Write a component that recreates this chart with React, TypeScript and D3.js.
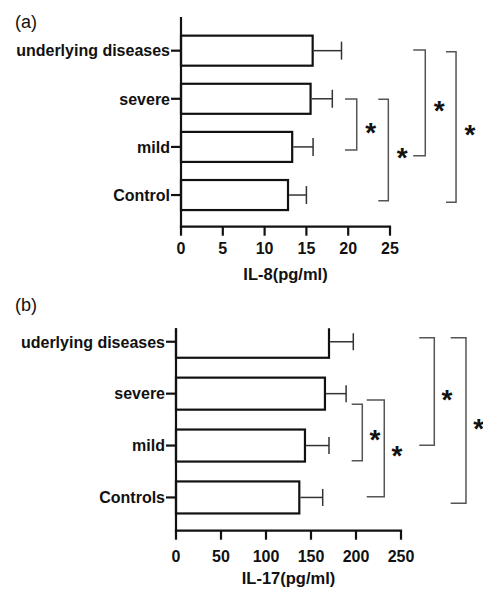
import React from "react";
import * as d3 from "d3";

// ---------- Data ----------
const categoriesA = ["underlying diseases", "severe", "mild", "Control"];
const meansA = [15.75, 15.5, 13.3, 12.8];
const sdA = [3.45, 2.6, 2.5, 2.2];
const ticksA = [0, 5, 10, 15, 20, 25];
const titleA = "IL-8(pg/ml)";

const categoriesB = ["uderlying diseases", "severe", "mild", "Controls"];
const meansB = [170, 165.5, 143.3, 137];
const sdB = [27, 23.5, 26.7, 26];
const ticksB = [0, 50, 100, 150, 200, 250];
const titleB = "IL-17(pg/ml)";

// significance brackets: [fromIndex, toIndex, label]
const sigPairsA: [number, number, string][] = [
  [1, 2, "*"],
  [1, 3, "*"],
  [0, 2, "*"],
  [0, 3, "*"],
];
const sigPairsB: [number, number, string][] = [
  [1, 2, "*"],
  [1, 3, "*"],
  [0, 2, "*"],
  [0, 3, "*"],
];

// ---------- Layout (positions / styles) ----------
const FONT = "'Liberation Sans', Arial, Helvetica, sans-serif";

type Layout = {
  tag: string;
  tagX: number;
  tagY: number;
  xRange: [number, number];
  axisY: [number, number];
  bandRange: [number, number];
  padInner: number;
  tickLabelDy: number;
  titleY: number;
  capHalf: number;
  brackets: { x: number; left: number; dTop: number; dBot: number }[];
  starDx: number;
};

const layoutA: Layout = {
  tag: "(a)",
  tagX: 15,
  tagY: 28,
  xRange: [181, 390],
  axisY: [17, 226.7],
  bandRange: [26.6, 219.1],
  padInner: 0.376,
  tickLabelDy: 27.5,
  titleY: 280,
  capHalf: 9,
  brackets: [
    { x: 21.02, left: 19.62, dTop: 0.3, dBot: 3.2 },
    { x: 24.8, left: 23.6, dTop: 0.5, dBot: 5.7 },
    { x: 29.22, left: 27.78, dTop: -0.6, dBot: 8.8 },
    { x: 32.9, left: 31.7, dTop: 1, dBot: 7.3 },
  ],
  starDx: 14,
};

const layoutB: Layout = {
  tag: "(b)",
  tagX: 15,
  tagY: 311,
  xRange: [176, 401],
  axisY: [328.3, 530.7],
  bandRange: [315.8, 523.4],
  padInner: 0.383,
  tickLabelDy: 31,
  titleY: 584,
  capHalf: 8.5,
  brackets: [
    { x: 207, left: 195.2, dTop: 10.6, dBot: 15.1 },
    { x: 231.4, left: 211.9, dTop: 6.3, dBot: -0.7 },
    { x: 287, left: 270.3, dTop: -4, dBot: -0.2 },
    { x: 322.2, left: 305.2, dTop: -4, dBot: 5.8 },
  ],
  starDx: 12.7,
};

type PanelProps = {
  id: string;
  categories: string[];
  means: number[];
  sds: number[];
  ticks: number[];
  title: string;
  pairs: [number, number, string][];
  layout: Layout;
};

function Panel({ id, categories, means, sds, ticks, title, pairs, layout }: PanelProps) {
  const x = d3
    .scaleLinear()
    .domain([ticks[0], ticks[ticks.length - 1]])
    .range(layout.xRange);
  const y = d3
    .scaleBand<string>()
    .domain(categories)
    .range(layout.bandRange)
    .paddingInner(layout.padInner)
    .paddingOuter(layout.padInner / 2);
  const bw = y.bandwidth();
  const center = (c: string) => (y(c) as number) + bw / 2;
  const [y0, y1] = layout.axisY;
  const clipId = `clip-${id}`;
  const stroke = 2.2;

  return (
    <g>
      <text x={layout.tagX} y={layout.tagY} fontSize={18} fontFamily={FONT} fill="#111">
        {layout.tag}
      </text>
      <defs>
        <clipPath id={clipId}>
          <rect x={x(0) - 5} y={y0} width={x.range()[1] - x(0) + 100} height={y1 - y0 + 5} />
        </clipPath>
      </defs>
      {/* bars */}
      <g clipPath={`url(#${clipId})`}>
        {categories.map((c, i) => (
          <rect
            key={c}
            x={x(0)}
            y={y(c)}
            width={x(means[i]) - x(0)}
            height={bw}
            fill="#fff"
            stroke="#111"
            strokeWidth={stroke}
          />
        ))}
      </g>
      {/* error bars */}
      {categories.map((c, i) => {
        const cy = center(c);
        const xe = x(means[i] + sds[i]);
        return (
          <g key={c + "e"} stroke="#333" strokeWidth={1.5}>
            <line x1={x(means[i]) + stroke / 2} x2={xe} y1={cy} y2={cy} />
            <line x1={xe} x2={xe} y1={cy - layout.capHalf} y2={cy + layout.capHalf} />
          </g>
        );
      })}
      {/* y axis */}
      <line x1={x(0)} x2={x(0)} y1={y0} y2={y1 + stroke / 2} stroke="#111" strokeWidth={stroke} />
      {categories.map((c) => (
        <g key={c + "t"}>
          <line x1={x(0) - 10} x2={x(0)} y1={center(c)} y2={center(c)} stroke="#111" strokeWidth={stroke} />
          <text
            x={x(0) - 11}
            y={center(c)}
            dy="0.36em"
            textAnchor="end"
            fontSize={16}
            fontWeight="bold"
            fontFamily={FONT}
            fill="#111"
          >
            {c}
          </text>
        </g>
      ))}
      {/* x axis */}
      <line x1={x(0) - stroke / 2} x2={x.range()[1] + stroke / 2} y1={y1} y2={y1} stroke="#111" strokeWidth={stroke} />
      {ticks.map((t) => (
        <g key={"xt" + t}>
          <line x1={x(t)} x2={x(t)} y1={y1} y2={y1 + 9} stroke="#111" strokeWidth={stroke} />
          <text
            x={x(t)}
            y={y1 + layout.tickLabelDy}
            textAnchor="middle"
            fontSize={16}
            fontWeight="bold"
            fontFamily={FONT}
            fill="#111"
          >
            {t}
          </text>
        </g>
      ))}
      <text
        x={(x.range()[0] + x.range()[1]) / 2}
        y={layout.titleY}
        textAnchor="middle"
        fontSize={16.5}
        fontWeight="bold"
        fontFamily={FONT}
        fill="#111"
      >
        {title}
      </text>
      {/* significance brackets */}
      {pairs.map(([a, b, lab], k) => {
        const br = layout.brackets[k];
        const yt = center(categories[a]) + br.dTop;
        const yb = center(categories[b]) + br.dBot;
        const xv = x(br.x);
        const xl = x(br.left);
        const mid = (yt + yb) / 2 + 1;
        return (
          <g key={"br" + k}>
            <path
              d={`M${xl},${yt}H${xv}V${yb}H${xl}`}
              fill="none"
              stroke="#555"
              strokeWidth={1.5}
            />
            <text
              x={xv + layout.starDx}
              y={mid + 16}
              textAnchor="middle"
              fontSize={28}
              fontWeight="bold"
              fontFamily={FONT}
              fill="#111"
            >
              {lab}
            </text>
          </g>
        );
      })}
    </g>
  );
}

export default function App() {
  return (
    <svg
      width={483}
      height={589}
      style={{ position: "absolute", left: 0, top: 0, background: "#fff" }}
    >
      <rect width={483} height={589} fill="#fff" />
      <Panel
        id="a"
        categories={categoriesA}
        means={meansA}
        sds={sdA}
        ticks={ticksA}
        title={titleA}
        pairs={sigPairsA}
        layout={layoutA}
      />
      <Panel
        id="b"
        categories={categoriesB}
        means={meansB}
        sds={sdB}
        ticks={ticksB}
        title={titleB}
        pairs={sigPairsB}
        layout={layoutB}
      />
    </svg>
  );
}
